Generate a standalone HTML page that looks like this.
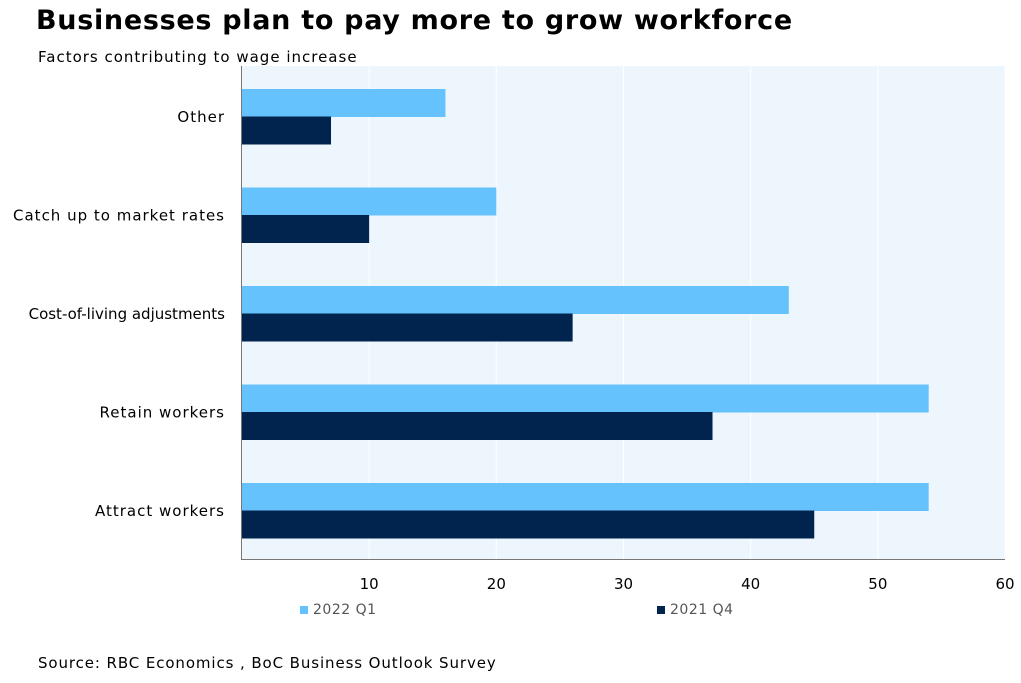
<!DOCTYPE html>
<html><head><meta charset="utf-8"><style>
body{margin:0;background:#fff;width:1021px;height:679px;overflow:hidden;font-family:"DejaVu Sans","Liberation Sans",sans-serif;}
</style></head><body>
<svg width="1021" height="679" xmlns="http://www.w3.org/2000/svg">
<text x="36" y="29" font-size="27" font-weight="bold" letter-spacing="0.7" fill="#000">Businesses plan to pay more to grow workforce</text>
<text x="38" y="62" font-size="15" letter-spacing="1" fill="#000">Factors contributing to wage increase</text>
<rect x="242" y="66" width="763" height="494" fill="#eef6fd"/>
<g id="grid"></g>
<g id="bars"></g>
<line x1="241.5" y1="66" x2="241.5" y2="560" stroke="#777" stroke-width="1"/>
<line x1="241" y1="559.5" x2="1005" y2="559.5" stroke="#777" stroke-width="1"/>
<g id="labels"></g>
<rect x="300" y="606" width="8" height="8" fill="#66c2fd"/>
<text x="313" y="614" font-size="14" letter-spacing="0.5" fill="#555">2022 Q1</text>
<rect x="657" y="606" width="8" height="8" fill="#00244d"/>
<text x="670" y="614" font-size="14" letter-spacing="0.5" fill="#555">2021 Q4</text>
<text x="38" y="668" font-size="15" letter-spacing="0.9" fill="#000">Source: RBC Economics , BoC Business Outlook Survey</text>
</svg>
<script>
const categories=["Other","Catch up to market rates","Cost-of-living adjustments","Retain workers","Attract workers"];
const series2022=[16,20,43,54,54];
const series2021=[7,10,26,37,45];
const xTicks=[10,20,30,40,50,60];
const NS="http://www.w3.org/2000/svg";
const x=v=>242+v*(763/60);
const yTop=i=>89+i*98.5;
const bars=document.getElementById('bars'),grid=document.getElementById('grid'),labels=document.getElementById('labels');
function mk(tag,attrs,parent){const e=document.createElementNS(NS,tag);for(const k in attrs)e.setAttribute(k,attrs[k]);parent.appendChild(e);return e;}
xTicks.forEach(t=>{
  const g=mk('line',{x1:x(t),x2:x(t),y1:66,y2:559,stroke:'#fff','stroke-width':1},grid);
  
  
  const tx=mk('text',{x:x(t),y:589,'font-size':15,'text-anchor':'middle',fill:'#000'},labels);
  tx.textContent=t;
  
  
});
categories.forEach((c,i)=>{
  const y=yTop(i);
  const a=mk('rect',{x:242,y:y,width:x(series2022[i])-242,height:28,fill:'#66c2fd'},bars);
  
  
  const b=mk('rect',{x:242,y:y+27.5,width:x(series2021[i])-242,height:28,fill:'#00244d'},bars);
  
  
  const t=mk('text',{x:225,y:y+33,'font-size':15,'letter-spacing':(c.indexOf('-')>=0?0:1),'text-anchor':'end',fill:'#000'},labels);
  t.textContent=c;
  
  
});
</script>
</body></html>
